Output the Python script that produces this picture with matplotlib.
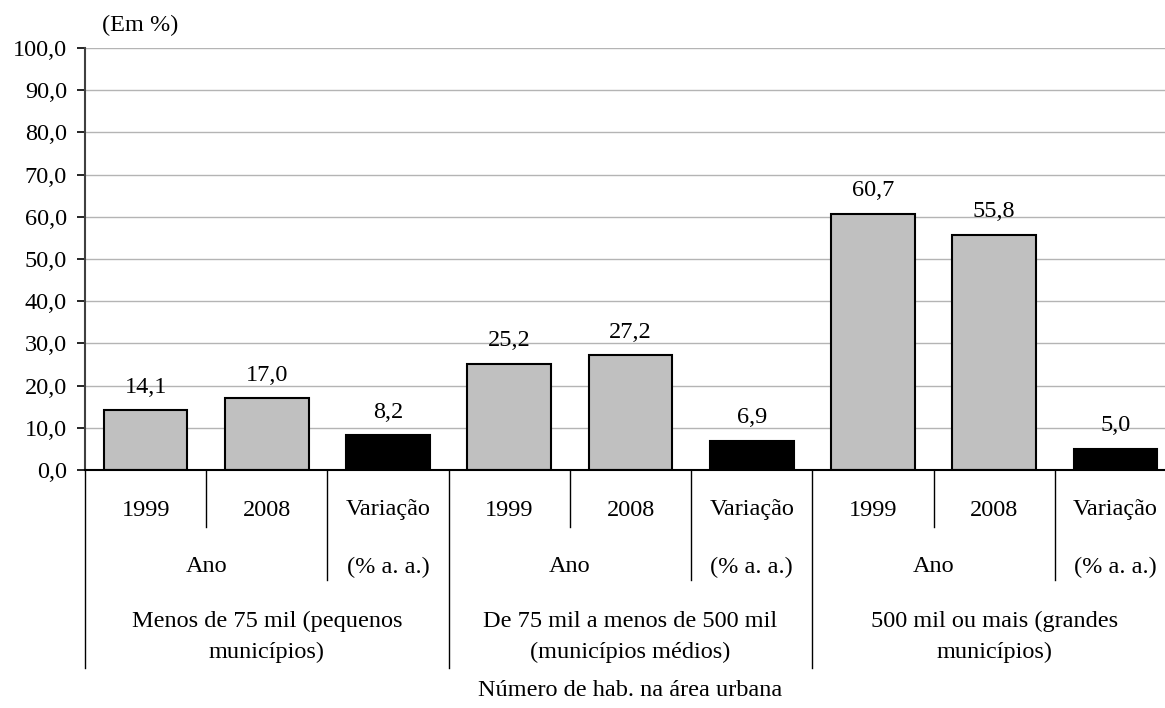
import matplotlib
matplotlib.use("Agg")
import matplotlib.pyplot as plt
import numpy as np

plt.rcParams["font.family"] = ["Liberation Serif", "DejaVu Serif"]
plt.rcParams["font.size"] = 17.5

groups = [
    "Menos de 75 mil (pequenos\nmunicípios)",
    "De 75 mil a menos de 500 mil\n(municípios médios)",
    "500 mil ou mais (grandes\nmunicípios)",
]
ano_1999 = [14.1, 25.2, 60.7]
ano_2008 = [17.0, 27.2, 55.8]
variacao = [8.2, 6.9, 5.0]
sub_labels = ["1999", "2008", "Variação"]
mid_labels = ["Ano", "(% a. a.)"]
y_ticks = [0, 10, 20, 30, 40, 50, 60, 70, 80, 90, 100]


def fmt(v):
    return f"{v:.1f}".replace(".", ",")


W, H = 1165, 708
fig = plt.figure(figsize=(W / 100, H / 100), dpi=100)
ax_h = 422
ax = fig.add_axes([85 / W, (H - 470) / H, (1176 - 85) / W, ax_h / H])


def below(px):
    return -px / ax_h


values = []
colors = []
for a, b, v in zip(ano_1999, ano_2008, variacao):
    values += [a, b, v]
    colors += ["#c0c0c0", "#c0c0c0", "black"]
x = np.arange(len(values)) + 0.5

ax.bar(x, values, width=0.69, color=colors, edgecolor="black", linewidth=1.5, zorder=3)
for xi, v in zip(x, values):
    ax.annotate(fmt(v), (xi, v), xytext=(0, 9), textcoords="offset points",
                ha="center", va="bottom")

ax.set_xlim(0, len(values))
ax.set_ylim(0, 100)
ax.set_yticks(y_ticks)
ax.set_yticklabels([fmt(t) for t in y_ticks])
ax.tick_params(axis="y", length=6, width=1.2, pad=7, labelsize=17.5)
ax.set_xticks([])
ax.grid(axis="y", color="#b4b4b4", linewidth=1)
ax.set_axisbelow(True)
for s in ["top", "right"]:
    ax.spines[s].set_visible(False)
ax.spines["left"].set_color("#404040")
ax.spines["left"].set_linewidth(1.5)
ax.spines["bottom"].set_color("black")
ax.spines["bottom"].set_linewidth(1.5)
ax.spines["bottom"].set_zorder(4)

tr = ax.get_xaxis_transform()
# multi-level category axis
for g, name in enumerate(groups):
    base = g * 3
    for k, lab in enumerate(sub_labels):
        ax.text(base + k + 0.5, below(40), lab, transform=tr, ha="center", va="center")
    ax.text(base + 1.0, below(97), mid_labels[0], transform=tr, ha="center", va="center")
    ax.text(base + 2.5, below(97), mid_labels[1], transform=tr, ha="center", va="center")
    ax.text(base + 1.5, below(167), name, transform=tr, ha="center", va="center", linespacing=1.6)
    ax.plot([base + 1, base + 1], [0, below(57)], transform=tr, color="black", lw=1, clip_on=False)
    ax.plot([base + 2, base + 2], [0, below(110)], transform=tr, color="black", lw=1, clip_on=False)
for gx in range(0, len(values) + 1, 3):
    ax.plot([gx, gx], [0, below(198)], transform=tr, color="black", lw=1, clip_on=False)

ax.text(4.5, below(221), "Número de hab. na área urbana", transform=tr, ha="center", va="center")
fig.text(140 / W, 1 - 25 / H, "(Em %)", ha="center", va="center")

fig.savefig("out.png", dpi=100)
